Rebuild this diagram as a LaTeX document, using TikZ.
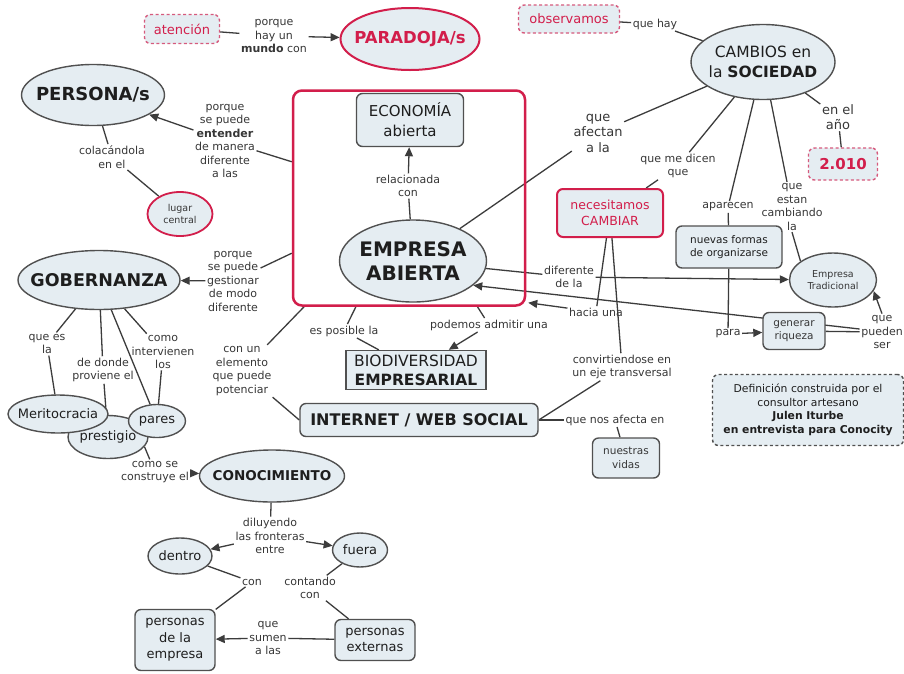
\documentclass[tikz,border=0pt]{standalone}
\usepackage{fontspec}
\setmainfont{DejaVu Sans}
\usetikzlibrary{shapes.geometric,arrows.meta,calc}
\pgfdeclarelayer{bg}
\pgfdeclarelayer{edges}
\pgfsetlayers{bg,edges,main}
\definecolor{fillc}{RGB}{229,237,242}
\definecolor{bord}{RGB}{80,80,80}
\definecolor{redc}{RGB}{210,30,75}
\definecolor{pinkc}{RGB}{214,90,125}
\definecolor{txt}{RGB}{30,30,30}
\definecolor{lbltxt}{RGB}{55,55,55}
\definecolor{conc}{RGB}{60,60,60}
\tikzset{
 sz/.style 2 args={minimum width=#1pt, minimum height=#2pt},
 fs/.style 2 args={font=\fontsize{#1}{#2}\selectfont},
 fsb/.style 2 args={font=\fontsize{#1}{#2}\selectfont\bfseries},
 lbl/.style={align=center, text=lbltxt, inner sep=1.5pt, fs={11}{13.5}},
 ell/.style={ellipse, draw=bord, fill=fillc, line width=1.4pt, inner sep=0pt},
 intext/.style={align=center, text=txt, inner sep=0pt},
 rbox/.style={rectangle, rounded corners=6pt, draw=bord, fill=fillc, line width=1.4pt, inner sep=0pt, align=center, text=txt},
 redell/.style={ell, draw=redc, line width=2pt},
 redbox/.style={rbox, draw=redc, line width=2pt},
 dbox/.style={rbox, draw=pinkc, dash pattern=on 3pt off 2.5pt, line width=1.4pt, text=redc},
 con/.style={draw=conc, line width=1.3pt},
 arr/.style={con, -{Triangle[length=9pt,width=8pt]}},
}
\begin{document}
\begin{tikzpicture}[x=1pt,y=-1pt]
\useasboundingbox (0,0) rectangle (904,673);
\begin{pgfonlayer}{bg}
\fill[white] (0,0) rectangle (904,673);
\end{pgfonlayer}
% group box
\node[draw=redc, line width=2.5pt, rounded corners=9pt, sz={232}{215}, inner sep=0pt] (grp) at (409,198) {};
% top
\node[dbox, sz={75}{29}, fs={13}{16}] (atencion) at (182,29) {atención};
\node[lbl] (porquehay) at (274,36) {porque\\hay un\\\textbf{mundo} con};
\node[redell, sz={139}{62}, label={[intext, text=redc, fsb={16.5}{20}]center:PARADOJA/s}] (paradoja) at (410,39) {};
\node[dbox, sz={101}{28}, fs={13}{16}] (observamos) at (569,19) {observamos};
\node[lbl] (quehay) at (655,24) {que hay};
\node[ell, sz={144}{75}, label={[intext, fs={15.5}{20}]center:{CAMBIOS en\\la \textbf{SOCIEDAD}}}] (cambios) at (763,62) {};
\node[lbl, fs={13}{15}] (enelano) at (838,117) {en el\\año};
\node[dbox, sz={69}{32}, fsb={15}{18}] (y2010) at (843,164) {2.010};
\node[lbl, fs={13}{15.5}] (queafectan) at (598,133) {que\\afectan\\a la};
\node[lbl] (quemedicen) at (678,166) {que me dicen\\que};
\node[redbox, sz={106}{48}, text=redc, fs={12.5}{16}] (necesitamos) at (610,213) {necesitamos\\CAMBIAR};
\node[lbl] (aparecen) at (728,207) {aparecen};
\node[rbox, sz={106}{42}, fs={10.5}{13}] (nuevas) at (729,247) {nuevas formas\\de organizarse};
\node[lbl] (quecamb) at (792,207) {que\\estan\\cambiando\\la};
\node[ell, sz={87}{54}, label={[intext, text=lbltxt, fs={9.5}{12.5}]center:{Empresa\\Tradicional}}] (et) at (833,280) {};
\node[lbl] (diferente) at (569,277) {diferente\\de la};
\node[lbl] (hacia) at (596,312) {hacia una};
\node[lbl] (para) at (728,334) {para};
\node[rbox, sz={62}{37}, fs={10.5}{13}, text=lbltxt] (gr) at (794,331) {generar\\riqueza};
\node[lbl] (qps) at (882,332) {que\\pueden\\ser};
\node[rbox, draw=bord, dash pattern=on 3pt off 2.5pt, sz={191}{71}, fs={10.8}{13.5}] (defin) at (808,410) {Definición construida por el\\consultor artesano\\\textbf{Julen Iturbe}\\\textbf{en entrevista para Conocity}};
% center
\node[rbox, sz={107}{53}, fs={15}{20}] (economia) at (410,120) {ECONOMÍA\\abierta};
\node[lbl] (relacionada) at (408,186) {relacionada\\con};
\node[ell, sz={147}{82}, label={[intext, fsb={20}{24}]center:{EMPRESA\\ABIERTA}}] (ea) at (413,261) {};
\node[lbl] (esposible) at (344,331) {es posible la};
\node[lbl] (podemos) at (489,325) {podemos admitir una};
\node[rectangle, draw=bord, fill=fillc, line width=1.4pt, sz={140}{39}, inner sep=0pt, align=center, text=txt, fs={15.5}{19}] (bio) at (416,370) {BIODIVERSIDAD\\\textbf{EMPRESARIAL}};
\node[rbox, sz={238}{33}, fsb={16}{19}] (inet) at (419,420) {INTERNET / WEB SOCIAL};
\node[lbl] (cue) at (242,371) {con un\\elemento\\que puede\\potenciar};
\node[lbl] (conv) at (622,367) {convirtiendose en\\un eje transversal};
\node[lbl] (qnae) at (615,420) {que nos afecta en};
\node[rbox, sz={67}{40}, fs={10.5}{13.5}, text=lbltxt] (vidas) at (626,458) {nuestras\\vidas};
% left
\node[ell, sz={143}{61}, label={[intext, fsb={18}{22}]center:PERSONA/s}] (persona) at (93,95) {};
\node[lbl] (entender) at (225,141) {porque\\se puede\\\textbf{entender}\\de manera\\diferente\\a las};
\node[lbl] (colac) at (112,157) {colacándola\\en el};
\node[redell, line width=1.8pt, sz={65}{44}, label={[intext, text=lbltxt, fs={9.5}{12}]center:{lugar\\central}}] (lugar) at (180,214) {};
\node[ell, sz={162}{59}, label={[intext, fsb={17.5}{21}]center:GOBERNANZA}] (gob) at (99,280) {};
\node[lbl] (gestionar) at (233,281) {porque\\se puede\\gestionar\\de modo\\diferente};
\node[lbl] (queesla) at (47,344) {que es\\la};
\node[lbl] (dedonde) at (103,370) {de donde\\proviene el};
\node[lbl] (comoint) at (163,352) {como\\intervienen\\los};
\node[ell, sz={80}{43}, label={[intext, fs={13}{16}]center:prestigio}] (prest) at (108,437) {};
\node[ell, sz={100}{38}, label={[intext, fs={13}{16}]center:Meritocracia}] (merit) at (58,414) {};
\node[ell, sz={57}{33}, label={[intext, fs={13}{16}]center:pares}] (pares) at (157,421) {};
\node[lbl] (comose) at (155,472) {como se\\construye el};
\node[ell, sz={145}{52}, label={[intext, fsb={13.5}{16}]center:CONOCIMIENTO}] (conoc) at (272,476) {};
\node[lbl] (dilu) at (270,536) {diluyendo\\las fronteras\\entre};
\node[ell, sz={64}{36}, label={[intext, fs={13}{16}]center:dentro}] (dentro) at (180,556) {};
\node[ell, sz={55}{34}, label={[intext, fs={13}{16}]center:fuera}] (fuera) at (360,550) {};
\node[lbl] (conlbl) at (252,582) {con};
\node[lbl] (contando) at (310,588) {contando\\con};
\node[rbox, sz={80}{61}, fs={13}{16.5}] (pde) at (175,640) {personas\\de la\\empresa};
\node[rbox, sz={80}{41}, fs={13}{16.5}] (pext) at (375,640) {personas\\externas};
\node[lbl] (sumen) at (268,638) {que\\sumen\\a las};

\begin{pgfonlayer}{edges}
\draw[con] (atencion) -- (porquehay);
\draw[arr] (porquehay) -- (paradoja);
\draw[con] (observamos) -- (quehay);
\draw[con] (quehay) -- (cambios);
\draw[con] (cambios) -- (enelano);
\draw[con] (enelano) -- (y2010);
\draw[con] (cambios) -- (queafectan);
\draw[con] (queafectan) -- (ea);
\draw[con] (cambios) -- (quemedicen);
\draw[con] (quemedicen) -- (necesitamos);
\draw[con] (cambios) -- (aparecen);
\draw[con] (aparecen) -- (nuevas);
\draw[con] (cambios) -- (quecamb);
\draw[con] (quecamb.south) -- (et.150);
\draw[con] (ea) -- (diferente);
\draw[arr] (diferente) -- (et);
\draw[con] (necesitamos) -- (hacia);
\draw[arr] (hacia) -- ($(grp.south east)+(2,-4)$);
\draw[con] (necesitamos) -- (conv);
\draw[con] (conv) -- (inet.east);
\draw[con] (inet) -- (qnae);
\draw[con] (qnae) -- (vidas);
\draw[con] (nuevas) -- (para);
\draw[arr] (para) -- (gr);
\draw[con] (qps) -- (gr);
\draw[arr] ($(qps.west)+(0,-3)$) -- (ea.-22);
\draw[arr] (qps.north) -- (et.-15);
\draw[con] (ea) -- (relacionada);
\draw[arr] (relacionada) -- (economia);
\draw[con] (grp) -- (esposible);
\draw[con] (esposible) -- (bio);
\draw[con] (grp) -- (podemos);
\draw[arr] (podemos) -- (bio);
\draw[con] (grp) -- (cue);
\draw[con] (cue) -- (inet.west);
\draw[con] (grp) -- (entender);
\draw[arr] (entender) -- (persona);
\draw[con] (persona) -- (colac);
\draw[con] (colac) -- (lugar);
\draw[con] (grp) -- (gestionar);
\draw[arr] (gestionar) -- (gob);
\draw[con] (gob) -- (queesla);
\draw[con] (queesla) -- (merit);
\draw[con] (gob) -- (dedonde);
\draw[con] (dedonde) -- (prest);
\draw[con] (gob) -- (pares);
\draw[con] (gob) -- (comoint);
\draw[con] (comoint) -- (pares);
\draw[con] (prest.-15) -- (comose);
\draw[arr] (comose) -- (conoc);
\draw[con] (conoc) -- (dilu);
\draw[arr] (dilu) -- (dentro);
\draw[arr] (dilu) -- (fuera);
\draw[con] (dentro) -- (conlbl);
\draw[con] (conlbl) -- (pde);
\draw[con] (fuera) -- (contando);
\draw[con] (contando) -- (pext);
\draw[con] (pext) -- (sumen);
\draw[arr] (sumen) -- (pde);
\end{pgfonlayer}
\end{tikzpicture}
\end{document}
